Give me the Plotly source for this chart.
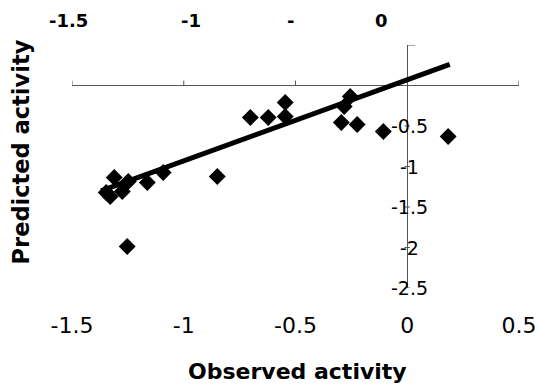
import plotly.graph_objects as go

# Data
obs = [-1.347, -1.329, -1.311, -1.275, -1.248, -1.163, -1.092, -1.253, -0.850,
       -0.702, -0.622, -0.546, -0.546, -0.255, -0.282, -0.295, -0.224, -0.107, 0.183]
pred = [-1.321, -1.370, -1.136, -1.309, -1.185, -1.198, -1.074, -1.988, -1.123,
        -0.395, -0.395, -0.210, -0.383, -0.136, -0.259, -0.457, -0.481, -0.568, -0.630]
fit_x = [-1.37, 0.19]
fit_y = [-1.30, 0.26]

x_ticks = [-1.5, -1, -0.5, 0, 0.5]
x_tick_text = ["-1.5", "-1", "-0.5", "0", "0.5"]
y_ticks = [-0.5, -1, -1.5, -2, -2.5]
y_tick_text = ["-0.5", "-1", "-1.5", "-2", "-2.5"]
top_label_x = [-1.517, -0.966, -0.523, -0.116]
top_label_text = ["-1.5", "-1", "-", "0"]

X_RANGE = [-1.5, 0.5]
Y_RANGE = [-2.5, 0.5]

fig = go.Figure()
fig.add_trace(go.Scatter(x=fit_x, y=fit_y, mode="lines",
                         line=dict(color="black", width=5), showlegend=False))
fig.add_trace(go.Scatter(x=obs, y=pred, mode="markers",
                         marker=dict(symbol="diamond", size=13, color="black"),
                         showlegend=False))

shapes = []
# small tick marks on the horizontal axis (y=0), pointing up
for t in x_ticks:
    if t != 0:
        shapes.append(dict(type="line", xref="x", yref="y", x0=t, x1=t, y0=0, y1=0.06,
                           line=dict(color="#555", width=1)))
# small tick marks on the vertical axis (x=0)
for t in y_ticks:
    shapes.append(dict(type="line", xref="x", yref="y", x0=-0.012, x1=0.012, y0=t, y1=t,
                       line=dict(color="#555", width=1)))
shapes.append(dict(type="line", xref="x", yref="y", x0=0, x1=0.035, y0=Y_RANGE[1], y1=Y_RANGE[1],
                   line=dict(color="#555", width=1)))

annotations = []
for v, txt in zip(y_ticks, y_tick_text):
    annotations.append(dict(x=0, y=v, xref="x", yref="y", text=txt, showarrow=False,
                            xanchor="center", yanchor="middle", xshift=2,
                            font=dict(family="DejaVu Sans", size=19, color="black")))
span = X_RANGE[1] - X_RANGE[0]
for v, txt in zip(top_label_x, top_label_text):
    annotations.append(dict(x=(v - X_RANGE[0]) / span, y=1.10, xref="paper", yref="paper",
                            text="<b>" + txt + "</b>",
                            showarrow=False, xanchor="center", yanchor="middle",
                            font=dict(family="DejaVu Sans", size=18, color="black")))
annotations.append(dict(x=-0.114, y=0.558, xref="paper", yref="paper",
                        text="<b>Predicted activity</b>", textangle=-90, showarrow=False,
                        xanchor="center", yanchor="middle",
                        font=dict(family="DejaVu Sans", size=22.5, color="black")))
annotations.append(dict(x=0.505, y=-0.345, xref="paper", yref="paper",
                        text="<b>Observed activity</b>", showarrow=False,
                        xanchor="center", yanchor="middle",
                        font=dict(family="DejaVu Sans", size=22, color="black")))

fig.update_layout(
    width=539, height=388,
    margin=dict(l=72, r=20, t=45, b=100, autoexpand=False),
    paper_bgcolor="white", plot_bgcolor="white",
    xaxis=dict(range=X_RANGE, tickvals=x_ticks, ticktext=x_tick_text, showgrid=False,
               zeroline=True, zerolinecolor="#555", zerolinewidth=1, showline=False,
               ticks="", ticklabelstandoff=22, automargin=False,
               tickfont=dict(family="DejaVu Sans", size=22, color="black")),
    yaxis=dict(range=Y_RANGE, showticklabels=False, showgrid=False, zeroline=True,
               zerolinecolor="#555", zerolinewidth=1, showline=False, ticks="",
               automargin=False),
    shapes=shapes,
    annotations=annotations,
)

fig.write_html("out.html", config={"displayModeBar": False},
               post_script="document.body.style.margin='0';")
